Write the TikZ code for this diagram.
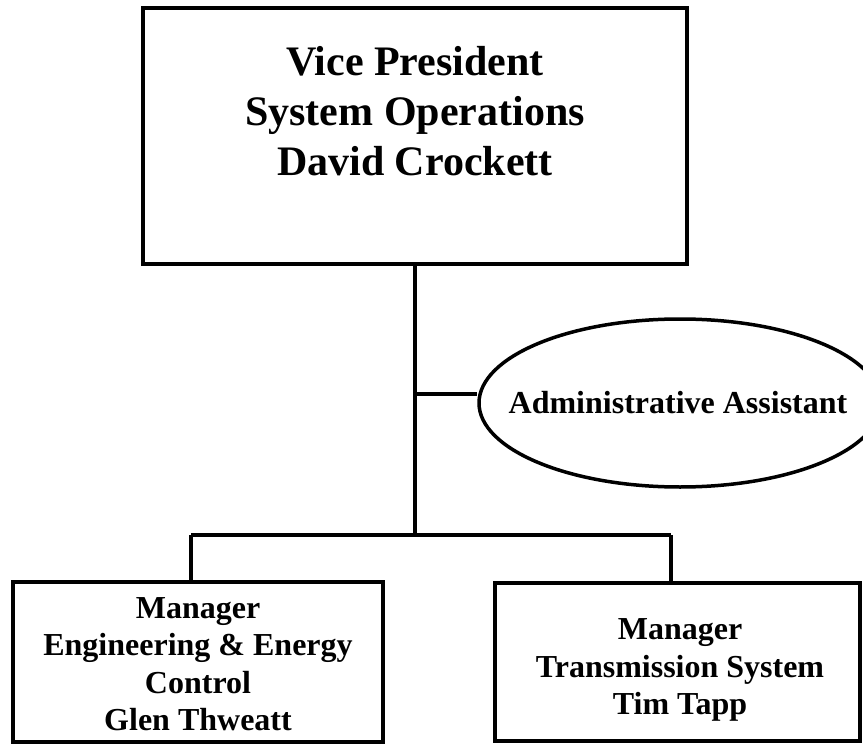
\documentclass[tikz,border=0pt]{standalone}
\usepackage{fontspec}
\setmainfont{Liberation Serif}
\usetikzlibrary{shapes.geometric}
\tikzset{
  boxshape/.style={draw, line width=4pt, rectangle, inner sep=0pt},
  bigtext/.style={font=\fontsize{42}{50}\selectfont\bfseries, align=center, inner sep=0pt},
  smalltext/.style={font=\fontsize{32}{37.5}\selectfont\bfseries, align=center, inner sep=0pt},
  conn/.style={line width=4pt},
  ovalshape/.style={draw, ellipse, line width=3.5pt, inner sep=0pt, minimum width=402pt, minimum height=168pt}
}
\begin{document}
\begin{tikzpicture}[x=1pt,y=-1pt]
\useasboundingbox (0,0) rectangle (863,744);
\clip (0,0) rectangle (863,744);
\fill[white] (0,0) rectangle (863,744);
% top box
\node[boxshape, minimum width=544pt, minimum height=256pt] (vp) at (415,136) {};
\node[bigtext] (vptext) at (415,111) {Vice President\\System Operations\\David Crockett};
% ellipse
\node[ovalshape] (aa) at (680,403) {};
\node[smalltext] (aatext) at (678,403) {Administrative Assistant};
% bottom boxes
\node[boxshape, minimum width=370pt, minimum height=160pt] (eng) at (198,662) {};
\node[smalltext] (engtext) at (198,664) {Manager\\Engineering \& Energy\\Control\\Glen Thweatt};
\node[boxshape, minimum width=365pt, minimum height=158pt] (tr) at (677.5,662) {};
\node[smalltext] (trtext) at (680,670) {Manager\\Transmission System\\Tim Tapp};
% connectors
\coordinate (jb) at (415,535);
\coordinate (ja) at (415,394);
\coordinate (bl) at (191,535);
\coordinate (br) at (671,535);
\draw[conn] (vp.south) -- (jb);
\draw[conn] (ja) -- (ja -| aa.west);
\draw[conn] (bl) -- (br);
\draw[conn] (bl) -- (bl |- eng.north);
\draw[conn] (br) -- (br |- tr.north);
\end{tikzpicture}
\end{document}
